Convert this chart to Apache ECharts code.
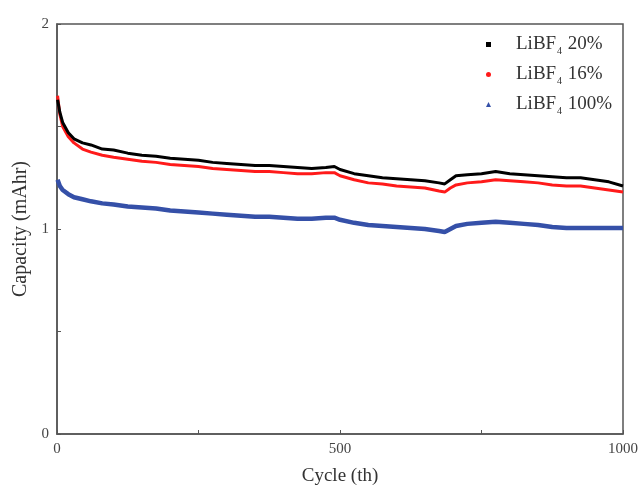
<!DOCTYPE html>
<html>
<head>
<meta charset="utf-8">
<script src="https://cdn.jsdelivr.net/npm/echarts@6/dist/echarts.min.js"></script>
<style>
  html, body { margin: 0; padding: 0; background: #fff; }
  #chart { width: 639px; height: 488px; }
</style>
</head>
<body>
<div id="chart"></div>
<script>
  // 循环次数
  var cycles = [1, 5, 10, 20, 30, 45, 60, 80, 100, 125, 150, 175, 200, 225, 250, 275, 300, 325, 350, 375,
    400, 425, 450, 475, 490, 500, 525, 550, 575, 600, 625, 650, 675, 685, 695, 705, 725, 750, 775, 800,
    825, 850, 875, 900, 925, 950, 975, 1000]
  // LiBF4 20%
  var cap20 = [1.63, 1.57, 1.52, 1.47, 1.44, 1.42, 1.41, 1.39, 1.385, 1.37, 1.36, 1.355, 1.345, 1.34, 1.335, 1.325,
    1.32, 1.315, 1.31, 1.31, 1.305, 1.30, 1.295, 1.30, 1.305, 1.29, 1.27, 1.26, 1.25, 1.245, 1.24, 1.235,
    1.225, 1.22, 1.24, 1.26, 1.265, 1.27, 1.28, 1.27, 1.265, 1.26, 1.255, 1.25, 1.25, 1.24, 1.23, 1.21]
  // LiBF4 16%
  var cap16 = [1.65, 1.56, 1.50, 1.45, 1.42, 1.39, 1.375, 1.36, 1.35, 1.34, 1.33, 1.325, 1.315, 1.31, 1.305, 1.295,
    1.29, 1.285, 1.28, 1.28, 1.275, 1.27, 1.27, 1.275, 1.275, 1.26, 1.24, 1.225, 1.22, 1.21, 1.205, 1.20,
    1.185, 1.18, 1.20, 1.215, 1.225, 1.23, 1.24, 1.235, 1.23, 1.225, 1.215, 1.21, 1.21, 1.20, 1.19, 1.18]
  // LiBF4 100%
  var cap100 = [1.24, 1.21, 1.19, 1.17, 1.155, 1.145, 1.135, 1.125, 1.12, 1.11, 1.105, 1.10, 1.09, 1.085, 1.08, 1.075,
    1.07, 1.065, 1.06, 1.06, 1.055, 1.05, 1.05, 1.055, 1.055, 1.045, 1.03, 1.02, 1.015, 1.01, 1.005, 1.00,
    0.99, 0.985, 1.00, 1.015, 1.025, 1.03, 1.035, 1.03, 1.025, 1.02, 1.01, 1.005, 1.005, 1.005, 1.005, 1.005]
  var names = ['LiBF4 20%', 'LiBF4 16%', 'LiBF4 100%']

  function pairs (ys) {
    return cycles.map(function (c, i) { return [c, ys[i]] })
  }

  var serif = 'Liberation Serif'
  var myChart = echarts.init(document.getElementById('chart'))
  var option = {
    animation: false,
    //图形位置
    grid: {
      left: 57, right: 16, top: 24, bottom: 54,
      outerBoundsMode: 'none',
      show: true, borderColor: '#555', borderWidth: 1.5
    },
    legend: {
      orient: 'vertical',
      left: 481,
      top: 30,
      itemWidth: 5,
      itemHeight: 5,
      itemGap: 9,
      data: [
        { name: names[0], icon: 'rect' },
        { name: names[1], icon: 'circle' },
        { name: names[2], icon: 'triangle' }
      ],
      formatter: function (name) {
        var p = name.split(' ')
        return '{p|LiBF}{s|4}{a| ' + p[1] + '}'
      },
      textStyle: {
        rich: {
          p: { fontFamily: serif, fontSize: 19, color: '#333', padding: [0, 0, 0, 20] },
          a: { fontFamily: serif, fontSize: 19, color: '#333' },
          s: { fontFamily: serif, fontSize: 10, color: '#333', padding: [13, 1, 0, 1] }
        }
      }
    },
    //x轴
    xAxis: {
      type: 'value',
      min: 0, max: 1000, interval: 250,
      name: 'Cycle (th)',
      nameLocation: 'middle',
      nameGap: 33,
      nameTextStyle: { fontFamily: serif, fontSize: 19, color: '#333' },
      axisLine: { lineStyle: { color: '#555', width: 1.5 } },
      axisTick: { inside: true, length: 4, lineStyle: { color: '#555' } },
      axisLabel: {
        fontFamily: serif, fontSize: 15, color: '#444', margin: 8,
        formatter: function (v) { return v % 500 === 0 ? v : '' }
      },
      splitLine: { show: false }
    },
    //y轴
    yAxis: {
      type: 'value',
      min: 0, max: 2, interval: 0.5,
      name: 'Capacity (mAhr)',
      nameLocation: 'middle',
      nameGap: 26,
      nameTextStyle: { fontFamily: serif, fontSize: 20, color: '#333' },
      axisLine: { show: true, lineStyle: { color: '#555', width: 1.5 } },
      axisTick: { show: true, inside: true, length: 4, lineStyle: { color: '#555' } },
      axisLabel: {
        fontFamily: serif, fontSize: 15, color: '#444', margin: 8,
        formatter: function (v) { return v % 1 === 0 ? v : '' }
      },
      splitLine: { show: false }
    },
    series: [
      {
        name: names[0], type: 'line', showSymbol: false, z: 3,
        color: '#000', lineStyle: { width: 3, color: '#000' },
        data: pairs(cap20)
      },
      {
        name: names[1], type: 'line', showSymbol: false, z: 2,
        color: '#ff1a1a', lineStyle: { width: 3, color: '#ff1a1a' },
        data: pairs(cap16)
      },
      {
        name: names[2], type: 'line', showSymbol: false, z: 1,
        color: '#3550a8', lineStyle: { width: 4.5, color: '#3550a8' },
        data: pairs(cap100)
      }
    ]
  }
  myChart.setOption(option)
</script>
</body>
</html>
